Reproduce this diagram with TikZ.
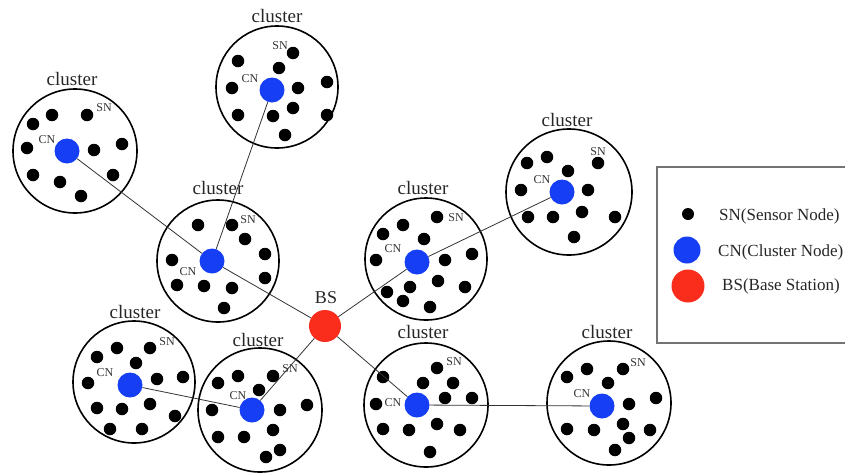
\documentclass[tikz,border=0pt]{standalone}
\usepackage{fontspec}
\setmainfont{Liberation Serif}
\usepackage{xcolor}
\definecolor{cnblue}{RGB}{22,62,245}
\definecolor{bsred}{RGB}{250,45,28}

\begin{document}
\begin{tikzpicture}[x=1pt, y=-1pt,
    ring/.style={circle, draw, line width=1.6pt, inner sep=0pt},
    sn/.style={circle, fill=black, inner sep=0pt, minimum size=12.5pt},
    cn/.style={circle, fill=cnblue, inner sep=0pt, minimum size=25pt},
    bs/.style={circle, fill=bsred, inner sep=0pt, minimum size=32pt},
    title/.style={text=black!85, inner sep=0pt, font=\fontsize{19}{21}\selectfont},
    tag/.style={text=black!80, inner sep=0pt, font=\fontsize{12}{14}\selectfont},
    key/.style={text=black!85, inner sep=0pt, anchor=west, font=\fontsize{17}{19}\selectfont},
    link/.style={black!80, line width=0.8pt}]
\useasboundingbox (0,0) rectangle (845,472);
\clip (0,0) rectangle (845,472);
\foreach \n/\x/\y/\d/\tx/\ty in {A/277/87/122/277/16, B/75/151/124/72/79, C/218/261/122/218/188,
    D/426/259/122/423/188, E/569/192/126/567/120, F/134/382/122/135/312,
    G/260/410/124/258/340, H/426/405/124/423/332, I/609/403/124/607/332}
{
    \node[ring, minimum size=\d pt] (ring\n) at (\x,\y) {};
    \node[title] (title\n) at (\tx,\ty) {cluster};
}
\foreach \x/\y [count=\i] in {293/53, 238/61, 279/68, 232/88, 298/88, 327/82, 293/108, 273/116, 238/115, 327/115, 285/135}
    \node[sn] (snA\i) at (\x,\y) {};
\foreach \x/\y [count=\i] in {52/115, 87/115, 33/124, 27/148, 94/150, 122/144, 33/175, 60/182, 113/175, 81/196}
    \node[sn] (snB\i) at (\x,\y) {};
\foreach \x/\y [count=\i] in {198/225, 232/225, 245/239, 172/260, 265/254, 177/285, 204/286, 232/288, 265/278, 224/308}
    \node[sn] (snC\i) at (\x,\y) {};
\foreach \x/\y [count=\i] in {437/217, 403/225, 383/234, 424/239, 376/260, 445/260, 472/254, 410/287, 438/281, 465/287, 387/292, 403/301, 430/307}
    \node[sn] (snD\i) at (\x,\y) {};
\foreach \x/\y [count=\i] in {547/157, 598/163, 527/163, 568/171, 521/190, 588/190, 528/217, 553/217, 582/212, 615/217, 574/237}
    \node[sn] (snE\i) at (\x,\y) {};
\foreach \x/\y [count=\i] in {117/348, 150/348, 97/357, 136/363, 88/383, 157/379, 183/377, 97/408, 122/409, 150/404, 175/416, 110/429, 142/429}
    \node[sn] (snF\i) at (\x,\y) {};
\foreach \x/\y [count=\i] in {238/376, 273/376, 218/383, 259/390, 212/410, 280/410, 307/405, 218/437, 244/437, 273/430, 280/450, 266/457}
    \node[sn] (snG\i) at (\x,\y) {};
\foreach \x/\y [count=\i] in {437/368, 383/377, 453/383, 423/383, 445/398, 472/398, 376/404, 383/429, 409/430, 437/424, 460/430, 430/452}
    \node[sn] (snH\i) at (\x,\y) {};
\foreach \x/\y [count=\i] in {587/369, 623/369, 567/377, 608/383, 629/404, 656/398, 567/429, 594/430, 623/424, 629/438, 650/430, 615/450}
    \node[sn] (snI\i) at (\x,\y) {};
\foreach \n/\x/\y/\sx/\sy/\cx/\cy in {A/272/90/280/46/250/79, B/67/151/104/108/47/140, C/212/261/248/220/188/272,
    D/417/262/456/218/393/249, E/562/192/598/152/542/180, F/130/385/167/342/105/373,
    G/252/410/290/369/238/396, H/417/405/454/362/393/403, I/602/406/638/363/582/394}
{
    \node[cn] (cn\n) at (\x,\y) {};
    \node[tag] (tagsn\n) at (\sx,\sy) {SN};
    \node[tag] (tagcn\n) at (\cx,\cy) {CN};
}
\node[bs] (bs) at (325,326) {};
\node[title, font=\fontsize{18}{20}\selectfont] (bstitle) at (326,298) {BS};
\draw[link] (cnA) -- (cnC);
\draw[link] (cnB) -- (cnC);
\draw[link] (cnC) -- (bs);
\draw[link] (bs) -- (cnD);
\draw[link] (cnD) -- (cnE);
\draw[link] (bs) -- (cnG);
\draw[link] (cnG) -- (cnF);
\draw[link] (bs) -- (cnH);
\draw[link] (cnH) -- (cnI);
\node[draw=black!55, line width=1.4pt, minimum width=220pt, minimum height=176pt] (legend) at (767,255) {};
\node[sn, minimum size=12pt] (keysn) at (688,214) {};
\node[cn, minimum size=27pt] (keycn) at (687,250) {};
\node[bs, minimum size=33pt] (keybs) at (688,286) {};
\node[key] (keysntext) at (719,216) {SN(Sensor Node)};
\node[key] (keycntext) at (718,252) {CN(Cluster Node)};
\node[key] (keybstext) at (722,286) {BS(Base Station)};
\end{tikzpicture}
\end{document}
